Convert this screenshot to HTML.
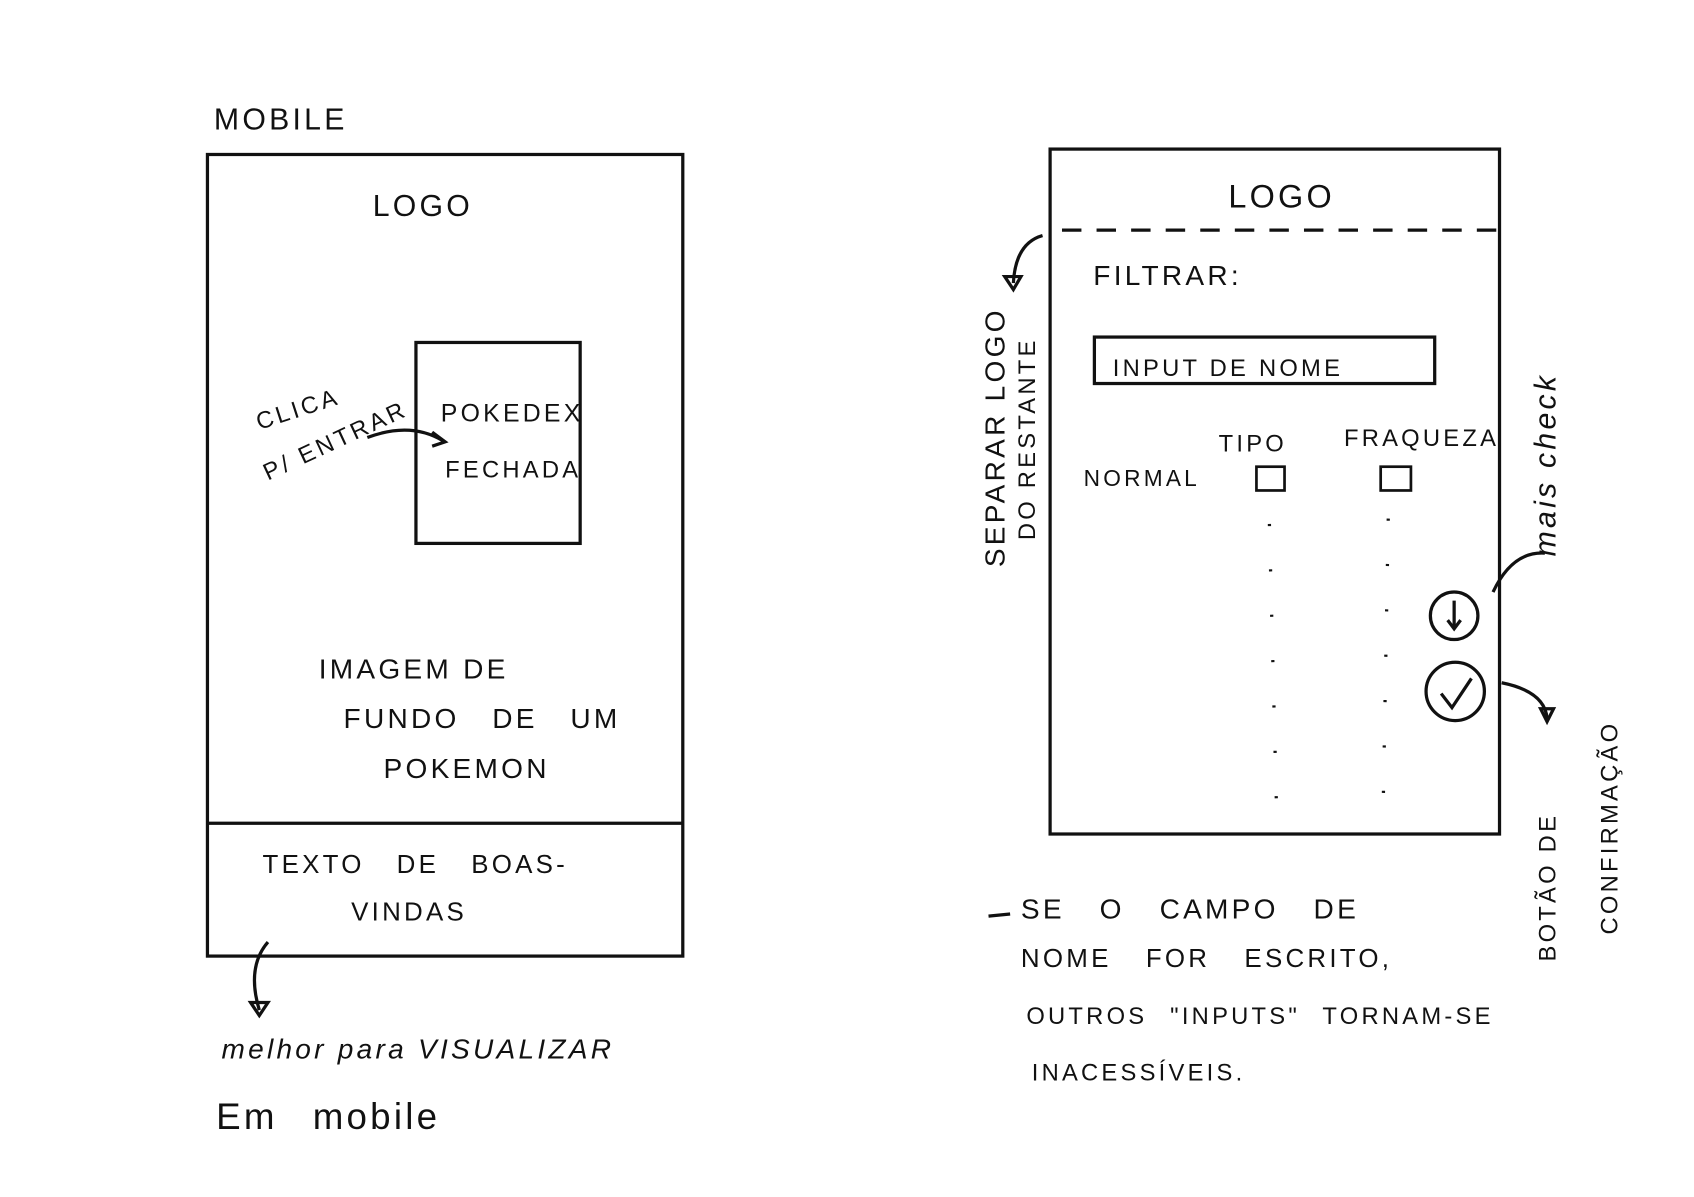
<!DOCTYPE html>
<html><head><meta charset="utf-8"><style>
html,body{margin:0;padding:0;background:#fff;}
svg{display:block}
text{font-family:"Liberation Sans",sans-serif;fill:#111;letter-spacing:3px}
</style></head><body>
<svg width="1694" height="1197" viewBox="0 0 1568 1108" xmlns="http://www.w3.org/2000/svg">
<g stroke="#111" stroke-width="3" fill="none">
<rect x="192" y="143" width="440" height="742"/>
<line x1="192" y1="762" x2="632" y2="762"/>
<rect x="385" y="317" width="152" height="186"/>
<path d="M340 405 Q380 390 410 408"/><path d="M400 400 L412 409 L400 413"/>
<path d="M248 872 Q228 895 240 935"/><path d="M232 928 L240 940 L248 928 Z"/>
<rect x="972" y="138" width="416" height="634"/>
<line x1="983" y1="213" x2="1385" y2="213" stroke-dasharray="18 14"/>
<rect x="1013" y="312" width="315" height="43"/>
<rect x="1163" y="432" width="26" height="22" stroke-width="2.5"/>
<rect x="1278" y="432" width="28" height="22" stroke-width="2.5"/>
<line x1="1175" y1="485" x2="1182" y2="765" stroke-dasharray="2 40"/>
<line x1="1285" y1="480" x2="1280" y2="765" stroke-dasharray="2 40"/>
<circle cx="1346" cy="570" r="22"/><circle cx="1347" cy="640" r="27"/>
<path d="M1334 642 L1344 655 L1362 628"/><path d="M1346 556 L1346 580 M1340 574 L1346 582 L1352 574"/>
<path d="M965 218 Q940 225 938 262"/><path d="M930 256 L938 268 L945 256 Z"/>
<path d="M1382 548 Q1400 510 1430 512"/>
<path d="M1390 632 Q1430 640 1432 665"/><path d="M1426 656 L1432 668 L1438 656 Z"/>
<line x1="915" y1="848" x2="935" y2="846"/>
</g>
<text x="198" y="120" font-size="28">MOBILE</text>
<text x="345" y="200" font-size="28">LOGO</text>
<text x="408" y="390" font-size="23" letter-spacing="0">POKEDEX</text>
<text x="412" y="442" font-size="22" letter-spacing="0">FECHADA</text>
<text x="240" y="398" font-size="22" transform="rotate(-18 240 398)">CLICA</text>
<text x="248" y="445" font-size="22" transform="rotate(-25 248 445)">P/ ENTRAR</text>
<text x="295" y="628" font-size="26">IMAGEM DE</text>
<text x="318" y="674" font-size="26" word-spacing="20">FUNDO DE UM</text>
<text x="355" y="720" font-size="26">POKEMON</text>
<text x="243" y="808" font-size="24" word-spacing="20">TEXTO DE BOAS-</text>
<text x="325" y="852" font-size="24">VINDAS</text>
<text x="205" y="980" font-size="26" font-style="italic">melhor para VISUALIZAR</text>
<text x="200" y="1045" font-size="34" letter-spacing="2" word-spacing="20">Em mobile</text>
<text x="1137" y="192" font-size="30">LOGO</text>
<text x="1012" y="264" font-size="26">FILTRAR:</text>
<text x="1030" y="348" font-size="22">INPUT DE NOME</text>
<text x="1128" y="418" font-size="22">TIPO</text>
<text x="1244" y="413" font-size="22" letter-spacing="1">FRAQUEZA</text>
<text x="1003" y="450" font-size="21" letter-spacing="1">NORMAL</text>
<text x="930" y="525" font-size="26" transform="rotate(-90 930 525)">SEPARAR LOGO</text>
<text x="958" y="500" font-size="22" transform="rotate(-90 958 500)">DO RESTANTE</text>
<text x="1440" y="515" font-size="28" font-style="italic" transform="rotate(-90 1440 515)">mais check</text>
<text x="1440" y="890" font-size="22" transform="rotate(-90 1440 890)">BOTÃO DE</text>
<text x="1497" y="865" font-size="22" letter-spacing="2" transform="rotate(-90 1497 865)">CONFIRMAÇÃO</text>
<text x="945" y="850" font-size="26" word-spacing="22">SE O CAMPO DE</text>
<text x="945" y="895" font-size="24" word-spacing="22">NOME FOR ESCRITO,</text>
<text x="950" y="948" font-size="22" word-spacing="12">OUTROS "INPUTS" TORNAM-SE</text>
<text x="955" y="1000" font-size="22" letter-spacing="1">INACESSÍVEIS.</text>
</svg>
</body></html>
